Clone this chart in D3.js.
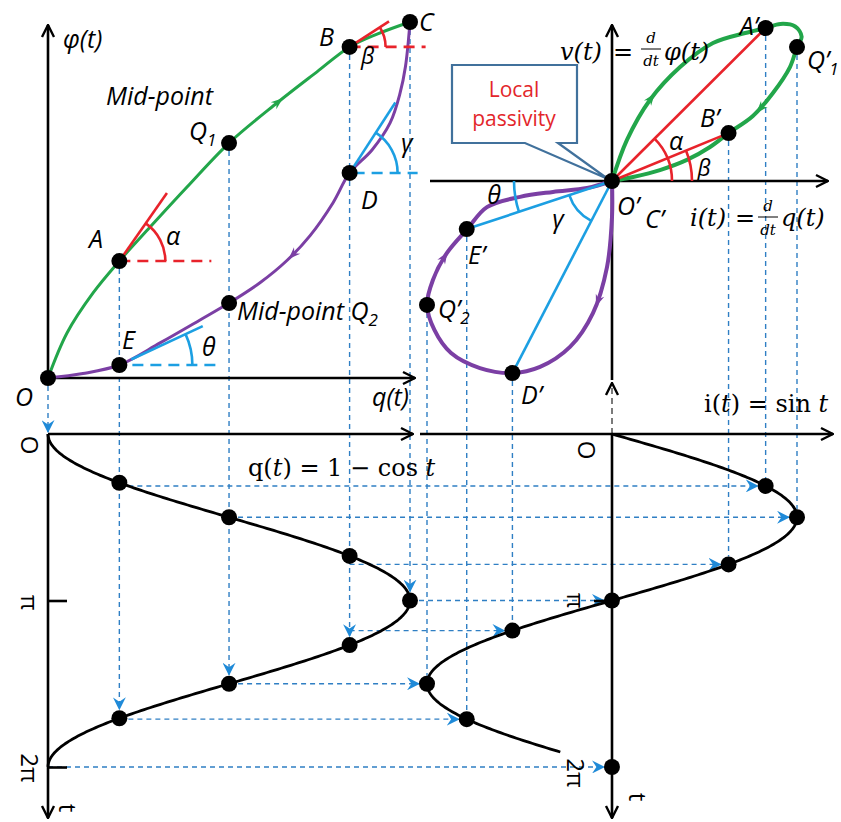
<!DOCTYPE html>
<html>
<head>
<meta charset="utf-8">
<script src="https://cdn.jsdelivr.net/npm/d3@7"></script>
<style>
  html, body { margin: 0; padding: 0; background: #fff; }
  svg { display: block; }
</style>
</head>
<body>
<svg id="fig" width="841" height="822"></svg>
<script>
// ---------------- data ----------------
// instants marked on q(t) = 1 - cos t  (O, A, Q1, B, C, D, Q2, E, end)
const qTimes = [0, 0.92, 1.571, 2.30, 3.142, 3.983, 4.712, 5.363, 6.283];
// flux value of the marked points on the φ–q loop, same order as qTimes (without the end)
const keyPhi = [0, 0.657, 1.32, 1.86, 2.0, 1.152, 0.421, 0.073];
const keyNames = ["O", "A", "Q1", "B", "C", "D", "Q2", "E"];

// instants marked on i(t) = sin t  (A', Q'1, B', C', D', Q'2, E', end)
const iTimes = [0.98, 1.571, 2.46, 3.142, 3.71, 4.712, 5.38, 6.283];
// voltage value of the marked points on the v–i loop, same order as iTimes
const keyV = [0.827, 0.724, 0.259, 0, -1.038, -0.67, -0.26, 0];

// t-axis ticks
const tTickValues = [0, 3.1416, 6.2832];
const tTickLabels = ["O", "π", "2π"];

// φ–q loop: rising branch (O → C) and falling branch (C → O), as [q, φ]
const phiRising = [[0,0],[0.105,0.253],[0.249,0.478],[0.394,0.657],[0.564,0.848],[0.768,1.073],
  [1.0,1.32],[1.265,1.545],[1.486,1.72],[1.666,1.86],[1.818,1.932],[2.0,2.0]];
const phiFalling = [[2.0,2.0],[1.975,1.75],[1.945,1.60],[1.89,1.433],[1.79,1.281],[1.666,1.152],
  [1.575,0.985],[1.448,0.80],[1.32,0.66],[1.171,0.535],[1.0,0.421],[0.84,0.326],[0.619,0.197],
  [0.394,0.073],[0.193,0.025],[0,0]];

// v–i loop: first half-period lobe and second half-period lobe, as [i, v], in time order
const viFirst = [[0,0],[0.081,0.222],[0.205,0.438],[0.368,0.616],[0.546,0.746],[0.72,0.80],
  [0.8305,0.827],[0.91,0.849],[0.99,0.835],[1.025,0.78],[1.0,0.724],[0.962,0.616],[0.87,0.476],
  [0.76,0.35],[0.6301,0.259],[0.53,0.184],[0.405,0.114],[0.259,0.059],[0.114,0.022],[0,0]];
const viSecond = [[0,0],[0,-0.195],[-0.027,-0.465],[-0.103,-0.714],[-0.227,-0.897],[-0.389,-1.005],
  [-0.5387,-1.038],[-0.714,-1.011],[-0.87,-0.93],[-0.96,-0.805],[-1.0,-0.67],[-0.968,-0.535],
  [-0.892,-0.389],[-0.7822,-0.26],[-0.676,-0.141],[-0.497,-0.086],[-0.319,-0.059],[-0.135,-0.038],[0,0]];

// tangent slopes (degrees) drawn at A, B, D, E
const tangentDeg = { A: 55, B: 33, D: 57, E: 25 };

// the two driving signals, as labelled
const qOf = t => 1 - Math.cos(t);
const iOf = t => Math.sin(t);
const iCurveEnd = 6.02;

// ---------------- setup ----------------
const svg = d3.select("#fig");
const col = { green: "#22a64a", purple: "#7b3fa4", red: "#e8232b", cyan: "#1c9fe2",
              dash: "#2f7fc4", head: "#1f8ad8", box: "#41719c" };
const dotR = 8;

const qX = d3.scaleLinear().domain([0, 2]).range([48, 410]);
const phiY = d3.scaleLinear().domain([0, 2]).range([378, 22]);
const iX = d3.scaleLinear().domain([-1, 1]).range([427, 797]);
const vY = d3.scaleLinear().domain([-1, 1]).range([366, -4]);
const tY = d3.scaleLinear().domain([0, 2 * Math.PI]).range([434, 767]);

const defs = svg.append("defs");
defs.append("marker").attr("id", "axisHead").attr("viewBox", "0 0 16 16")
  .attr("refX", 15).attr("refY", 8).attr("markerWidth", 16).attr("markerHeight", 16)
  .attr("markerUnits", "userSpaceOnUse").attr("orient", "auto")
  .append("path").attr("d", "M3,2 L15,8 L3,14").attr("fill", "none")
  .attr("stroke", "#000").attr("stroke-width", 2.4).attr("stroke-dasharray", "none");
defs.append("marker").attr("id", "blueHead").attr("viewBox", "0 0 12 12")
  .attr("refX", 11).attr("refY", 6).attr("markerWidth", 13).attr("markerHeight", 13)
  .attr("markerUnits", "userSpaceOnUse").attr("orient", "auto")
  .append("path").attr("d", "M0,0 L12,6 L0,12 L4,6 Z").attr("fill", col.head);

const gDash = svg.append("g");
const gAxes = svg.append("g");
const gCurves = svg.append("g");
const gNotes = svg.append("g");
const gDots = svg.append("g");
const gText = svg.append("g");

const dashLine = (x1, y1, x2, y2, arrow) => {
  const l = gDash.append("line").attr("x1", x1).attr("y1", y1).attr("x2", x2).attr("y2", y2)
    .attr("stroke", col.dash).attr("stroke-width", 1.4).attr("stroke-dasharray", "5,4");
  if (arrow) l.attr("marker-end", "url(#blueHead)");
  return l;
};

// ---------------- projection lines ----------------
// horizontal: from each q(t) dot across to the matching i(t) dot
iTimes.forEach((ti, k) => {
  const x0 = qX(qOf(qTimes[k + 1]));
  const y = tY(ti);
  const x1 = iX(iOf(ti)) - dotR;
  dashLine(x0, y, x1, y, true);
});

// vertical: from the φ–q points down to the q(t) dots
const dropTargets = [0, 7, 6, 5, 4];   // qTimes index reached by O, A, Q1, B, C
dropTargets.forEach((target, k) => {
  const x = qX(qOf(qTimes[k]));
  const y0 = phiY(keyPhi[k]) + dotR;
  const y1 = k === 0 ? tY(0) - 2 : tY(qTimes[target]) - dotR - 1;
  dashLine(x, y0, x, y1, true);
});

// vertical: from the v–i points down to the i(t) dots
[0, 1, 2, 4, 5, 6].forEach(k => {
  const x = iX(iOf(iTimes[k]));
  dashLine(x, vY(keyV[k]) + dotR, x, tY(iTimes[k]) - dotR, false);
});

// ---------------- axes ----------------
const axisLine = (x1, y1, x2, y2, w) =>
  gAxes.append("line").attr("x1", x1).attr("y1", y1).attr("x2", x2).attr("y2", y2)
    .attr("stroke", "#000").attr("stroke-width", w || 2.6).attr("marker-end", "url(#axisHead)");

// φ–q plane
axisLine(qX(0), phiY(0), qX(0), 25);
axisLine(qX(0), phiY(0), 415, phiY(0));
// v–i plane
axisLine(430, vY(0), 828, vY(0));
axisLine(iX(0), 380, iX(0), 25);
gAxes.append("line").attr("x1", iX(0)).attr("y1", tY(0)).attr("x2", iX(0)).attr("y2", 383)
  .attr("stroke", "#444").attr("stroke-width", 1.4).attr("stroke-dasharray", "6,4")
  .attr("marker-end", "url(#axisHead)");
// time planes
axisLine(qX(0), tY(0), 413, tY(0));
axisLine(420, tY(0), 833, tY(0));
axisLine(qX(0), tY(0), qX(0), 818);
axisLine(iX(0), tY(0), iX(0), 818);

// tick marks on the time axes
gAxes.append("g").attr("transform", `translate(${qX(0)},0)`)
  .call(d3.axisRight(tY).tickValues(tTickValues.slice(1)).tickSize(19).tickFormat(""))
  .call(g => g.select(".domain").remove())
  .call(g => g.selectAll("line").attr("stroke", "#000").attr("stroke-width", 2.6));
gAxes.append("g").attr("transform", `translate(${iX(0)},0)`)
  .call(d3.axisLeft(tY).tickValues(tTickValues.slice(1, 2)).tickSize(18).tickFormat(""))
  .call(g => g.select(".domain").remove())
  .call(g => g.selectAll("line").attr("stroke", "#000").attr("stroke-width", 2.6));

// ---------------- curves ----------------
const curveArrow = (path, frac, color, size) => {
  const node = path.node();
  const L = node.getTotalLength();
  const p = node.getPointAtLength(L * frac);
  const p2 = node.getPointAtLength(Math.min(L, L * frac + 1.5));
  const ang = Math.atan2(p2.y - p.y, p2.x - p.x) * 180 / Math.PI;
  gCurves.append("path")
    .attr("d", `M${size},0 L${-size},${-size * 0.75} L${-size * 0.35},0 L${-size},${size * 0.75} Z`)
    .attr("transform", `translate(${p.x},${p.y}) rotate(${ang})`).attr("fill", color);
};

const linePQ = d3.line().x(d => qX(d[0])).y(d => phiY(d[1])).curve(d3.curveCatmullRom.alpha(0.5));
const lineIV = d3.line().x(d => iX(d[0])).y(d => vY(d[1])).curve(d3.curveCatmullRom.alpha(0.5));

const pRise = gCurves.append("path").attr("d", linePQ(phiRising)).attr("fill", "none")
  .attr("stroke", col.green).attr("stroke-width", 3);
const pFall = gCurves.append("path").attr("d", linePQ(phiFalling)).attr("fill", "none")
  .attr("stroke", col.purple).attr("stroke-width", 3);
curveArrow(pRise, 0.70, col.green, 6);
curveArrow(pFall, 0.49, col.purple, 6);

const pFirst = gCurves.append("path").attr("d", lineIV(viFirst)).attr("fill", "none")
  .attr("stroke", col.green).attr("stroke-width", 4);
const pSecond = gCurves.append("path").attr("d", lineIV(viSecond)).attr("fill", "none")
  .attr("stroke", col.purple).attr("stroke-width", 4);
curveArrow(pFirst, 0.175, col.green, 6);
curveArrow(pFirst, 0.68, col.green, 6);
curveArrow(pSecond, 0.20, col.purple, 6);
curveArrow(pSecond, 0.68, col.purple, 6);

// q(t) and i(t) against time (time runs downward)
const tSamples = d3.range(0, 2 * Math.PI + 0.001, 0.02);
gCurves.append("path")
  .attr("d", d3.line().x(t => qX(qOf(t))).y(t => tY(t))(tSamples))
  .attr("fill", "none").attr("stroke", "#000").attr("stroke-width", 2.8);
gCurves.append("path")
  .attr("d", d3.line().x(t => iX(iOf(t))).y(t => tY(t))(tSamples.filter(t => t <= iCurveEnd)))
  .attr("fill", "none").attr("stroke", "#000").attr("stroke-width", 2.8);

// ---------------- angle annotations ----------------
const rad = d => d * Math.PI / 180;
const seg = (x1, y1, x2, y2, color, dash, w) =>
  gNotes.append("line").attr("x1", x1).attr("y1", y1).attr("x2", x2).attr("y2", y2)
    .attr("stroke", color).attr("stroke-width", w || 2.6).attr("stroke-dasharray", dash || null);
const arcAt = (cx, cy, r, a0, a1, ccw, color) => {
  const p = d3.path();
  p.moveTo(cx + r * Math.cos(a0), cy + r * Math.sin(a0));
  p.arc(cx, cy, r, a0, a1, ccw);
  gNotes.append("path").attr("d", p.toString()).attr("fill", "none")
    .attr("stroke", color).attr("stroke-width", 2.6);
};
const tangentNote = (k, deg, color, r, len, start, dashLen) => {
  const cx = qX(qOf(qTimes[k])), cy = phiY(keyPhi[k]);
  const a = rad(deg);
  seg(cx + start * Math.cos(a), cy - start * Math.sin(a), cx + len * Math.cos(a), cy - len * Math.sin(a), color);
  seg(cx + start, cy, cx + dashLen, cy, color, "11,7");
  arcAt(cx, cy, r, 0, -a, true, color);
};
tangentNote(1, tangentDeg.A, col.red, 46, 83, 0, 92);
tangentNote(3, tangentDeg.B, col.red, 36, 47, 0, 76);
tangentNote(5, tangentDeg.D, col.cyan, 48, 84, 4, 68);
tangentNote(7, tangentDeg.E, col.cyan, 73, 92, 13, 96);

// chords from O' in the v–i plane
const ox = iX(0), oy = vY(0);
const keyXY = k => [iX(iOf(iTimes[k])), vY(keyV[k])];
const angTo = k => { const [x, y] = keyXY(k); return Math.atan2(y - oy, x - ox); };
[0, 2].forEach(k => { const [x, y] = keyXY(k); seg(ox, oy, x, y, col.red); });
[6, 4].forEach(k => { const [x, y] = keyXY(k); seg(ox, oy, x, y, col.cyan); });
arcAt(ox, oy, 60, 0, angTo(0), true, col.red);
arcAt(ox, oy, 80, 0, angTo(2), true, col.red);
arcAt(ox, oy, 98, Math.PI, angTo(6), true, col.cyan);
arcAt(ox, oy, 45, angTo(6), angTo(4), true, col.cyan);

// ---------------- dots ----------------
const dot = (x, y) => gDots.append("circle").attr("cx", x).attr("cy", y).attr("r", dotR).attr("fill", "#000");
keyPhi.forEach((phi, k) => dot(qX(qOf(qTimes[k])), phiY(phi)));
keyV.forEach((v, k) => { if (k !== 7) dot(iX(iOf(iTimes[k])), vY(v)); });
qTimes.slice(1, 8).forEach(t => dot(qX(qOf(t)), tY(t)));
iTimes.forEach(t => dot(iX(iOf(t)), tY(t)));

// ---------------- callout ----------------
gNotes.append("path")
  .attr("d", `M452,65 H577 V143 H558 L${ox - 4},${oy - 2} L525,143 H452 Z`)
  .attr("fill", "#fff").attr("stroke", col.box).attr("stroke-width", 2.2).attr("stroke-linejoin", "miter");

// ---------------- text ----------------
const sans = "'Open Sans', 'Noto Sans', sans-serif";
const serif = "'DejaVu Serif', serif";
const label = (x, y, txt, opts = {}) => {
  const size = opts.size || 25;
  const t = gText.append("text").attr("x", x).attr("y", y)
    .attr("font-family", opts.family || sans).attr("font-size", size)
    .attr("font-style", opts.italic === false ? "normal" : "italic")
    .attr("fill", opts.color || "#000").attr("text-anchor", opts.anchor || "start");
  if (opts.sub) {
    t.append("tspan").text(txt);
    t.append("tspan").attr("font-size", size * 0.68).attr("dy", 6).text(opts.sub);
  } else t.text(txt);
  return t;
};

// φ–q plane
label(63, 48, "φ(t)");
label(15, 406, "O");
label(372, 406, "q(t)");
label(106, 105, "Mid-point");
label(189, 140, "Q", { sub: "1" });
label(89, 248, "A");
label(166, 245, "α");
label(319, 46, "B");
label(361, 64, "β", { size: 23 });
label(419, 31, "C");
label(361, 209, "D");
label(401, 152, "γ");
label(237, 320, "Mid-point Q", { sub: "2" });
label(122, 349, "E");
label(202, 356, "θ");

// v–i plane
label(758, 35, "A’", { anchor: "end" });
label(807, 69, "Q’", { sub: "1" });
label(700, 127, "B’");
label(468, 264, "E’");
label(438, 318, "Q’", { sub: "2" });
label(521, 404, "D’");
label(617, 215, "O’");
label(645, 228, "C’");
label(676, 150, "α", { anchor: "middle" });
label(704, 176, "β", { anchor: "middle", size: 23 });
label(494, 204, "θ", { anchor: "middle" });
label(558, 228, "γ", { anchor: "middle" });

label(514, 97, "Local", { italic: false, color: "#e3262b", anchor: "middle", size: 21 });
label(514, 126, "passivity", { italic: false, color: "#e3262b", anchor: "middle", size: 21 });

// derivative definitions
const fraction = (cx, yTop, yBar, yBot) => {
  label(cx, yTop, "d", { family: serif, size: 15, anchor: "middle" });
  gText.append("line").attr("x1", cx - 10).attr("x2", cx + 10).attr("y1", yBar).attr("y2", yBar)
    .attr("stroke", "#000").attr("stroke-width", 1);
  label(cx, yBot, "dt", { family: serif, size: 15, anchor: "middle" });
};
label(560, 60, "v(t)", { family: serif, size: 24 });
label(613, 60, "=", { family: serif, size: 24, italic: false });
fraction(651, 43, 49, 66);
label(664, 60, "φ(t)", { family: serif, size: 24 });

label(690, 226, "i(t)", { family: serif, size: 24 });
label(735, 226, "=", { family: serif, size: 24, italic: false });
fraction(768, 211, 217, 235);
label(781, 226, "q(t)", { family: serif, size: 24 });

// signal definitions
const formula = (x, y, parts) => {
  const t = gText.append("text").attr("x", x).attr("y", y).attr("font-family", serif).attr("font-size", 24);
  parts.forEach(([s, it]) => t.append("tspan").attr("font-style", it ? "italic" : "normal").text(s));
};
formula(248, 476, [["q(", 0], ["t", 1], [") = 1 − cos ", 0], ["t", 1]]);
formula(704, 412, [["i(", 0], ["t", 1], [") = sin ", 0], ["t", 1]]);

// rotated time-axis labels
const rotLabel = (x, y, txt) =>
  gText.append("text").attr("transform", `translate(${x},${y}) rotate(90)`)
    .attr("text-anchor", "middle").attr("dominant-baseline", "central")
    .attr("font-family", sans).attr("font-size", 24).text(txt);
const leftOffsets = [11, 2, 1];
const rightOffsets = [16, 0, 6];
tTickValues.forEach((t, k) => {
  rotLabel(30, tY(t) + leftOffsets[k], tTickLabels[k]);
  rotLabel(k === 0 ? 587 : 576, tY(t) + rightOffsets[k], tTickLabels[k]);
});
rotLabel(68, 808, "t");
rotLabel(638, 797, "t");
</script>
</body>
</html>
